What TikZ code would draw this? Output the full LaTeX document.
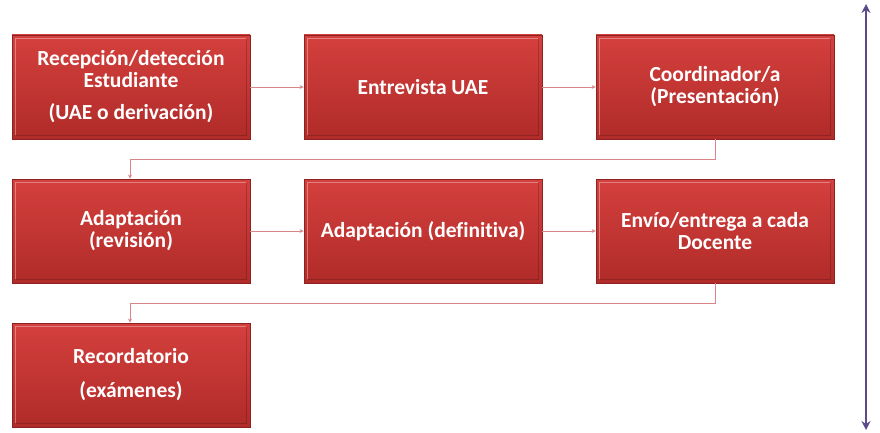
\documentclass[tikz,border=0pt]{standalone}
\usepackage{fontspec}
\setmainfont[Ligatures=CommonOff]{Carlito}
\usetikzlibrary{arrows.meta}
\definecolor{boxtop}{HTML}{D4403D}
\definecolor{boxbot}{HTML}{B02B29}
\definecolor{boxedge}{HTML}{8E2220}
\definecolor{conn}{HTML}{D9868A}
\definecolor{purp}{HTML}{5C4A8A}
\tikzset{
  stepbox/.style={rectangle, minimum width=238pt, minimum height=104pt,
    top color=boxtop, bottom color=boxbot, draw=boxedge, line width=0.8pt,
    text=white, font=\bfseries\fontsize{21.5}{22}\selectfont, align=center, inner sep=0pt},
  conn/.style={draw=conn, line width=0.9pt, -{Stealth[length=4pt,width=4pt]}},
}
\begin{document}
\begin{tikzpicture}[x=1pt,y=-1pt]
\useasboundingbox (0,0) rectangle (880,433);
\fill[white] (0,0) rectangle (880,433);
% row 1
\node[stepbox] (b1) at (131,87) {Recepción/detección\\Estudiante\\[10pt](UAE o derivación)};
\node[stepbox] (b2) at (423,87) {Entrevista UAE};
\node[stepbox] (b3) at (715,87) {Coordinador/a\\(Presentación)};
% row 2
\node[stepbox] (b4) at (131,231) {Adaptación\\(revisión)};
\node[stepbox] (b5) at (423,231) {Adaptación (definitiva)};
\node[stepbox] (b6) at (715,231) {Envío/entrega a cada\\Docente};
% row 3
\node[stepbox] (b7) at (131,375) {Recordatorio\\[12pt](exámenes)};
% bevel highlights
\foreach \n in {b1,b2,b3,b4,b5,b6,b7}{
  \draw[white, opacity=0.35, line width=1.2pt] ([xshift=4pt,yshift=4pt]\n.south west) -- ([xshift=4pt,yshift=-4pt]\n.north west) -- ([xshift=-4pt,yshift=-4pt]\n.north east);
  \draw[black, opacity=0.18, line width=1.2pt] ([xshift=-4pt,yshift=-4pt]\n.north east) -- ([xshift=-4pt,yshift=4pt]\n.south east) -- ([xshift=4pt,yshift=4pt]\n.south west);
}
% connectors
\draw[conn] (b1) -- (b2);
\draw[conn] (b2) -- (b3);
\coordinate (c1) at (130,159);
\draw[conn] (b3.south) |- (c1) -- (b4.north -| c1);
\draw[conn] (b4) -- (b5);
\draw[conn] (b5) -- (b6);
\coordinate (c2) at (130,303);
\draw[conn] (b6.south) |- (c2) -- (b7.north -| c2);
% purple double arrow
\coordinate (pa) at (866,4);
\coordinate (pb) at (866,430);
\draw[purp, line width=2.4pt, {Stealth[length=9pt,width=9pt]}-{Stealth[length=9pt,width=9pt]}] (pa) -- (pb);
\end{tikzpicture}
\end{document}
